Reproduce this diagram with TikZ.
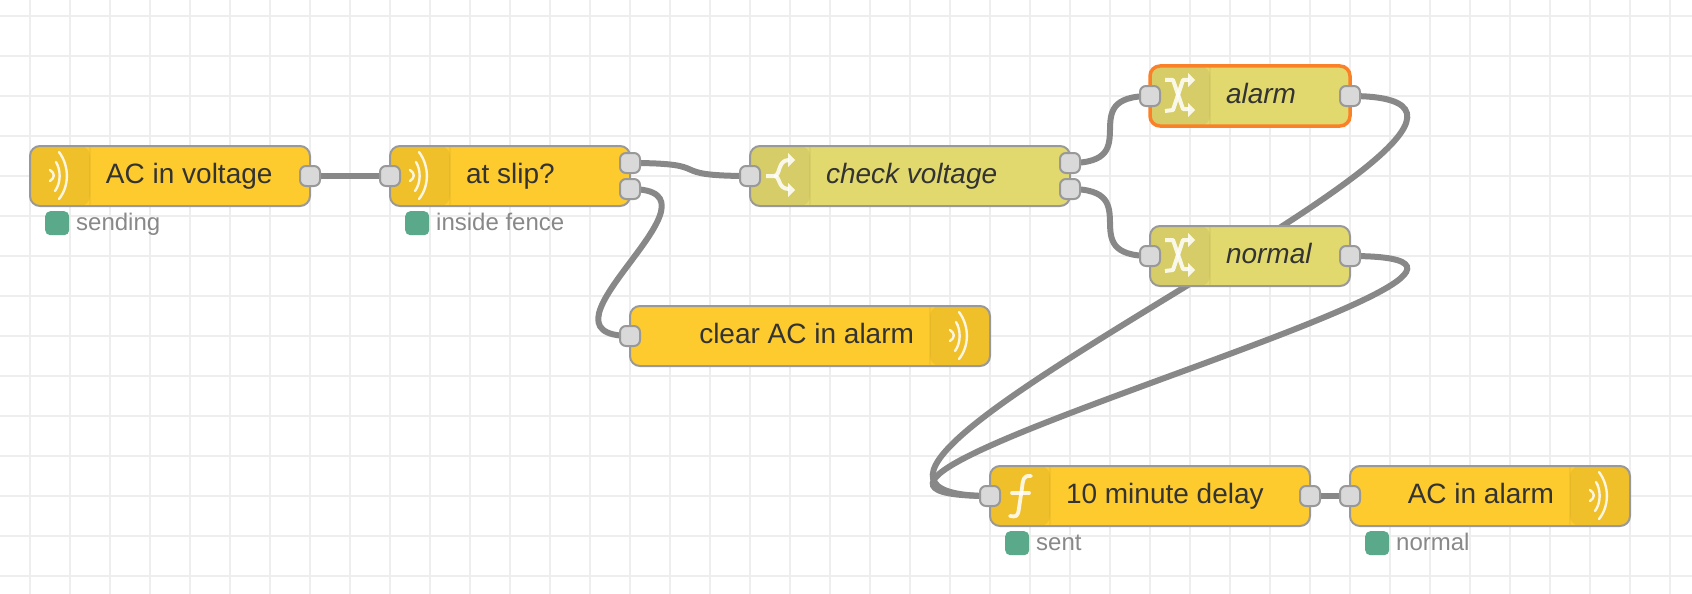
\documentclass[tikz,border=0pt]{standalone}
\usepackage{fontspec}
\setmainfont{Liberation Sans}
\usetikzlibrary{backgrounds}

\definecolor{gridgray}{HTML}{EEEEEE}
\definecolor{wiregray}{HTML}{888888}
\definecolor{bordergray}{HTML}{999999}
\definecolor{portgray}{HTML}{D9D9D9}
\definecolor{textdark}{HTML}{333333}
\definecolor{statusgray}{HTML}{888888}
\definecolor{statusgreen}{HTML}{5AA98A}
\definecolor{nodeyellow}{HTML}{FDCB2E}
\definecolor{nodeolive}{HTML}{E2D96E}
\definecolor{pickorange}{HTML}{FB8128}

\newcommand{\bodyfont}{\fontsize{28}{34}\selectfont}
\newcommand{\statusfont}{\fontsize{24}{29}\selectfont}

\tikzset{
gridline/.style={draw=gridgray,line width=2pt},
wire/.style={draw=wiregray,line width=6pt},
flownode/.style={rectangle,draw=bordergray,line width=2pt,rounded corners=10pt,
  minimum height=60pt,inner xsep=0pt,inner ysep=0pt,text height=20pt,text depth=5pt,
  font=\bodyfont,text=textdark},
iconleft/.style={flownode,text width=#1,minimum width=#1,align=flush left,
  execute at begin node={\hspace*{76pt}},
  path picture={
    \fill[black,opacity=0.05] (path picture bounding box.north west) rectangle ([xshift=60pt]path picture bounding box.south west);
    \draw[black,opacity=0.04,line width=2pt] ([xshift=60pt]path picture bounding box.north west) -- ([xshift=60pt]path picture bounding box.south west);
  }},
iconright/.style={flownode,text width=#1,minimum width=#1,align=flush right,
  execute at end node={\hspace*{76pt}},
  path picture={
    \fill[black,opacity=0.05] (path picture bounding box.north east) rectangle ([xshift=-60pt]path picture bounding box.south east);
    \draw[black,opacity=0.04,line width=2pt] ([xshift=-60pt]path picture bounding box.north east) -- ([xshift=-60pt]path picture bounding box.south east);
  }},
yellownode/.style={fill=nodeyellow},
olivenode/.style={fill=nodeolive,font=\bodyfont\itshape},
picked/.style={draw=pickorange,line width=3.5pt},
portbox/.style={rectangle,draw=bordergray,fill=portgray,line width=2pt,rounded corners=6pt,
  minimum width=20pt,minimum height=20pt,inner sep=0pt},
statusdot/.style={rectangle,fill=statusgreen,rounded corners=5pt,minimum width=24pt,
  minimum height=24pt,inner sep=0pt,anchor=north west},
statuslabel/.style={font=\statusfont,text=statusgray,inner sep=0pt,anchor=base west},
iconline/.style={draw=white,line width=2.4pt,line cap=round,line join=round,opacity=0.85},
pics/wavesicon/.style={code={
  \draw[iconline] (29,-24) .. controls (39.5,-10) and (39.5,10) .. (29,23);
  \draw[iconline] (26,-14) .. controls (31,-6) and (31,7) .. (25,15);
  \draw[iconline] (20,-6) .. controls (25,-3) and (25,2) .. (20,5);
}},
pics/spliticon/.style={code={
  \draw[iconline,line width=4pt,line cap=butt] (16,0) -- (24,0) .. controls (31,0) and (27,-16) .. (39,-16);
  \draw[iconline,line width=4pt,line cap=butt] (24,0) .. controls (31,0) and (27,13) .. (39,13);
  \fill[white,opacity=0.85] (45,-16) -- (38,-23) -- (38,-9) -- cycle;
  \fill[white,opacity=0.85] (45,14) -- (38,7) -- (38,21) -- cycle;
}},
pics/swapicon/.style={code={
  \draw[iconline,line width=4pt,line cap=butt] (15,-16) -- (23,-16) -- (33,13) -- (39,13);
  \draw[iconline,line width=4pt,line cap=butt] (15,15) -- (23,14) -- (33,-16) -- (39,-16);
  \fill[white,opacity=0.85] (45,-16) -- (38,-23) -- (38,-9) -- cycle;
  \fill[white,opacity=0.85] (45,14) -- (38,7) -- (38,21) -- cycle;
}},
pics/funcicon/.style={code={
  \draw[iconline,line width=3.8pt] (41,-20) .. controls (33,-21) and (33,-16) .. (32,-8) -- (29,12) .. controls (28,21) and (26,21) .. (20,20);
  \draw[iconline,line width=3.8pt] (22,-3) -- (39,-3);
}}
}

\begin{document}
\begin{tikzpicture}[x=1pt,y=-1pt]
\useasboundingbox (0,0) rectangle (1692,594);

\begin{pgfonlayer}{background}
\foreach \gridx in {30,70,...,1670}
  \draw[gridline] (\gridx,0) -- (\gridx,594);
\foreach \gridy in {16,56,...,576}
  \draw[gridline] (0,\gridy) -- (1692,\gridy);
\end{pgfonlayer}

% nodes
\node[iconleft=280pt,yellownode](acvolt) at (170,176){AC in voltage};
\node[iconleft=240pt,yellownode](atslip) at (510,176){at slip?};
\node[iconright=360pt,yellownode](clearalarm) at (810,336){clear AC in alarm};
\node[iconleft=320pt,olivenode](checkvolt) at (910,176){check voltage};
\node[iconleft=200pt,olivenode,picked](alarm) at (1250,96){alarm};
\node[iconleft=200pt,olivenode](normal) at (1250,256){normal};
\node[iconleft=320pt,yellownode](delay) at (1150,496){10 minute delay};
\node[iconright=280pt,yellownode](acalarm) at (1490,496){AC in alarm};

% icons
\pic at (30,176) {wavesicon};
\pic at (390,176) {wavesicon};
\pic at (930,336) {wavesicon};
\pic at (750,176) {spliticon};
\pic at (1150,96) {swapicon};
\pic at (1150,256) {swapicon};
\pic at (990,496) {funcicon};
\pic at (1570,496) {wavesicon};

% ports
\node[portbox](acvoltout) at (310,176){};
\node[portbox](atslipin) at (390,176){};
\node[portbox](atslipouta) at (630,163){};
\node[portbox](atslipoutb) at (630,189){};
\node[portbox](clearalarmin) at (630,336){};
\node[portbox](checkvoltin) at (750,176){};
\node[portbox](checkvoltouta) at (1070,163){};
\node[portbox](checkvoltoutb) at (1070,189){};
\node[portbox](alarmin) at (1150,96){};
\node[portbox](alarmout) at (1350,96){};
\node[portbox](normalin) at (1150,256){};
\node[portbox](normalout) at (1350,256){};
\node[portbox](delayin) at (990,496){};
\node[portbox](delayout) at (1310,496){};
\node[portbox](acalarmin) at (1350,496){};

% status
\node[statusdot](acvoltdot) at (45,211){};
\node[statuslabel](acvoltstatus) at (76,230){sending};
\node[statusdot](atslipdot) at (405,211){};
\node[statuslabel](atslipstatus) at (436,230){inside fence};
\node[statusdot](delaydot) at (1005,531){};
\node[statuslabel](delaystatus) at (1036,550){sent};
\node[statusdot](acalarmdot) at (1365,531){};
\node[statuslabel](acalarmstatus) at (1396,550){normal};

% wires run behind the nodes
\begin{pgfonlayer}{background}
\draw[wire] (acvoltout.center) -- (atslipin.center);
\draw[wire] (atslipouta.center) .. controls +(90.5,0) and +(-90.5,0) .. (checkvoltin.center);
\draw[wire] (atslipoutb.center) .. controls +(110,0) and +(-110,0) .. (clearalarmin.center);
\draw[wire] (checkvoltouta.center) .. controls +(78.3,0) and +(-78.3,0) .. (alarmin.center);
\draw[wire] (checkvoltoutb.center) .. controls +(78.3,0) and +(-78.3,0) .. (normalin.center);
\draw[wire] (alarmout.center) .. controls +(294,0) and +(-294,0) .. (delayin.center);
\draw[wire] (normalout.center) .. controls +(294,0) and +(-294,0) .. (delayin.center);
\draw[wire] (delayout.center) -- (acalarmin.center);
\end{pgfonlayer}
\end{tikzpicture}
\end{document}
